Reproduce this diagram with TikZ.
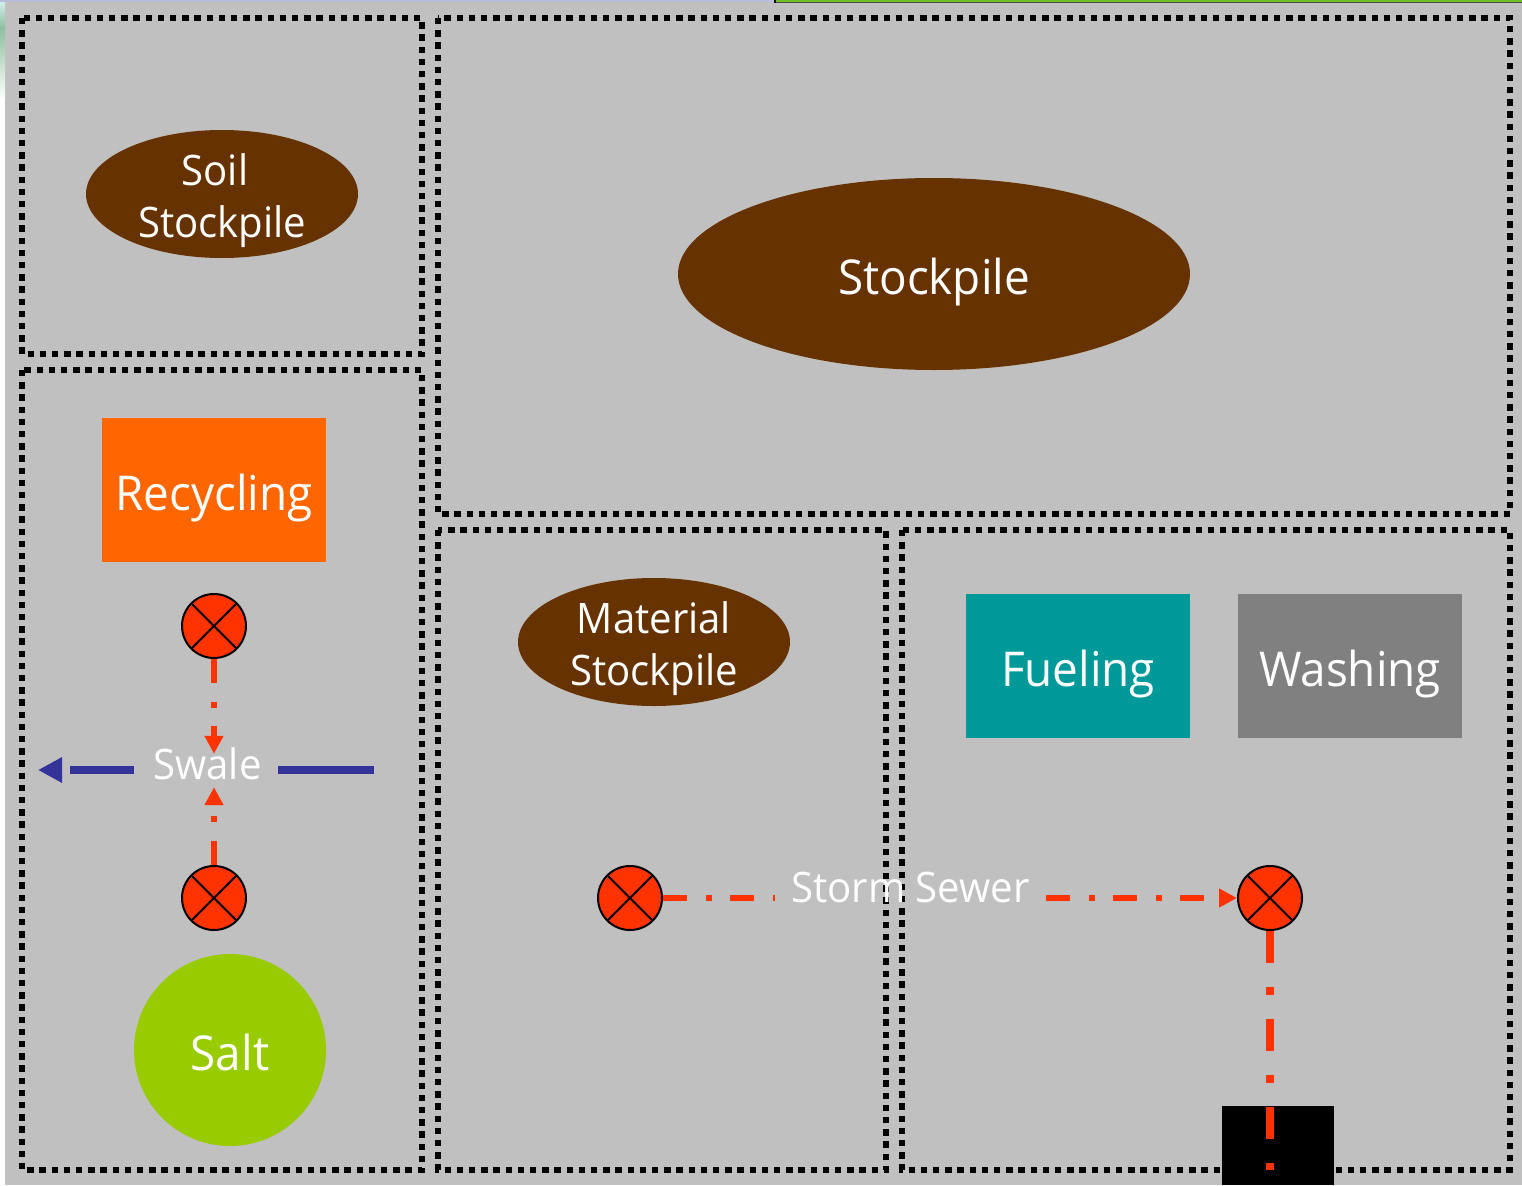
\documentclass[tikz,border=0pt]{standalone}
\usepackage{fontspec}
\setmainfont[FakeStretch=0.955]{Open Sans}
\usetikzlibrary{shapes.geometric,arrows.meta}
\definecolor{bgray}{HTML}{C0C0C0}
\definecolor{brownfill}{HTML}{663300}
\definecolor{redor}{HTML}{FF3300}
\definecolor{orangefill}{HTML}{FF6600}
\definecolor{tealfill}{HTML}{009999}
\definecolor{grayfill}{HTML}{808080}
\definecolor{saltfill}{HTML}{99CC00}
\definecolor{bluearrow}{HTML}{333399}
\definecolor{stripblue}{HTML}{B8BCD8}
\definecolor{stripgreen}{HTML}{70C028}
\definecolor{imgcyan}{HTML}{D8F0F0}
\definecolor{imggreen}{HTML}{8FBFA0}
\tikzset{
  x=1pt,y=-1pt,
  zone/.style={draw=black,line width=6.4pt,dash pattern=on 6.4pt off 5.8pt},
  txt/.style={text=white,font=\fontsize{42}{52}\selectfont,align=center,inner sep=0pt},
  bigtxt/.style={text=white,font=\fontsize{48}{58}\selectfont,align=center,inner sep=0pt},
  pile/.style={ellipse,fill=brownfill,inner sep=0pt},
  boxnode/.style={rectangle,inner sep=0pt,minimum width=224pt,minimum height=144pt,text=white,font=\fontsize{48}{58}\selectfont},
  valve/.style={circle,draw=black,line width=2pt,fill=redor,minimum size=64pt,inner sep=0pt,path picture={
    \draw[black,line width=2pt] ([shift={(-22.6pt,-22.6pt)}]path picture bounding box.center) -- ([shift={(22.6pt,22.6pt)}]path picture bounding box.center);
    \draw[black,line width=2pt] ([shift={(-22.6pt,22.6pt)}]path picture bounding box.center) -- ([shift={(22.6pt,-22.6pt)}]path picture bounding box.center);}},
  sewer/.style={draw=redor,line width=6pt,dash pattern=on 24pt off 19pt on 6pt off 18pt,-{Triangle[length=18pt,width=18pt,color=redor]}},
  sewerplain/.style={draw=redor,line width=6pt,dash pattern=on 24pt off 19pt on 6pt off 18pt},
  sewerwide/.style={draw=redor,line width=8pt,dash pattern=on 32pt off 24pt on 8pt off 24pt},
  swaleline/.style={draw=bluearrow,line width=8pt},
}
\begin{document}
\begin{tikzpicture}
\useasboundingbox (0,0) rectangle (1522,1185);
\fill[white] (0,0) rectangle (1522,1185);
\fill[bgray] (5,0) rectangle (1522,1185);
% top strip and left image fragment
\fill[top color=imgcyan,bottom color=imggreen] (0,0) rectangle (5,28);
\fill[top color=imggreen,bottom color=white] (0,28) rectangle (5,100);
\fill[stripblue] (0,0) rectangle (774,2);
\fill[stripgreen] (776,0) rectangle (1522,2);
\fill[black] (774,0) rectangle (776,3);
\fill[black!70] (776,2) rectangle (1522,3);

% zones
\draw[zone] (22,18) rectangle (422,354);
\draw[zone] (22,370) rectangle (422,1170);
\draw[zone] (438,18) rectangle (1510,514);
\draw[zone] (438,530) rectangle (886,1170);
\draw[zone] (902,530) rectangle (1510,1170);

% piles
\node[pile,minimum width=272pt,minimum height=128pt] (soil) at (222,194) {};
\node[txt] (soillabel) at (222,201) {Soil\hspace*{14pt}\\Stockpile};
\node[pile,minimum width=512pt,minimum height=192pt] (stock) at (934,274) {};
\node[bigtxt] (stocklabel) at (934,282) {Stockpile};
\node[pile,minimum width=272pt,minimum height=128pt] (mat) at (654,642) {};
\node[txt] (matlabel) at (654,649) {Material\\Stockpile};

% boxes
\node[boxnode,fill=orangefill] (rec) at (214,490) {\smash{\raisebox{-20pt}{Recycling}}};
\node[boxnode,fill=tealfill] (fuel) at (1078,666) {\smash{\raisebox{-20pt}{Fueling}}};
\node[boxnode,fill=grayfill] (wash) at (1350,666) {\smash{\raisebox{-20pt}{Washing}}};
\node[circle,fill=saltfill,minimum size=192pt,inner sep=0pt,text=white,font=\fontsize{48}{58}\selectfont] (salt) at (230,1050) {\smash{\raisebox{-20pt}{Salt}}};
\node[rectangle,fill=black,minimum width=112pt,minimum height=79pt,inner sep=0pt] (drain) at (1278,1145.5) {};

% labels
\node[inner sep=0pt,minimum width=144pt,minimum height=33pt,text=white,font=\fontsize{42}{52}\selectfont] (swale) at (206,770.5) {\smash{\hspace*{3pt}\raisebox{-9pt}{Swale}}};
\node[inner sep=0pt,minimum width=271pt,minimum height=33pt,text=white,font=\fontsize{42}{52}\selectfont] (storm) at (910.5,898) {\smash{\raisebox{-4pt}{Storm Sewer}}};

% valves
\node[valve] (v1) at (214,626) {};
\node[valve] (v2) at (214,898) {};
\node[valve] (v3) at (630,898) {};
\node[valve] (v4) at (1270,898) {};
\coordinate (swaleE) at (374,770);
\coordinate (swaleW) at (38,770);
\coordinate (outfall) at (1270,1170);

% connectors
\draw[sewer] (v1.south) -- (v1.south |- swale.north);
\draw[sewer] (v2.north) -- (v2.north |- swale.south);
\draw[sewerplain] (v3.east) -- (storm.west);
\draw[sewer] (storm.east) -- (v4.west);
\draw[sewerwide] (v4.south) -- (outfall);
\draw[swaleline] (swaleE) -- (swale.east |- swaleE);
\draw[swaleline,dash pattern=on 64pt off 100pt,-{Triangle[length=24pt,width=24pt,color=bluearrow]}] (swale.west |- swaleW) -- (swaleW);
\end{tikzpicture}
\end{document}
